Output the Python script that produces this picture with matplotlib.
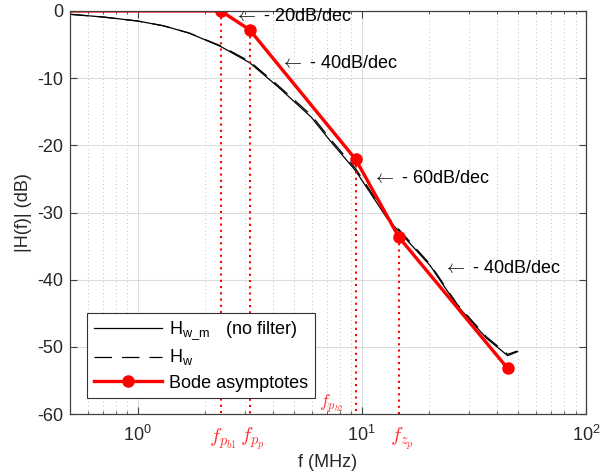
import numpy as np
import matplotlib
matplotlib.use('Agg')
import matplotlib.pyplot as plt
from matplotlib.lines import Line2D

plt.rcParams['font.family'] = ['Liberation Sans', 'DejaVu Sans']
plt.rcParams['mathtext.fontset'] = 'cm'
plt.rcParams['axes.unicode_minus'] = False

f_meas = [0.5, 0.7, 1.0, 1.3, 1.7, 2.35, 3.16, 4.2, 5.95, 7.3, 9.4, 13.0, 20.2, 26.6, 36.0, 44.8, 49.6]
h_wm = [-0.5, -0.9, -1.5, -2.2, -3.3, -5.3, -7.7, -11.2, -15.8, -19.5, -23.8, -30.9, -37.9, -43.8, -48.7, -51.3, -50.7]
h_w = [-0.5, -0.9, -1.5, -2.2, -3.3, -5.2, -7.5, -11.0, -15.5, -19.2, -23.5, -30.6, -37.7, -43.6, -48.5, -51.1, -50.6]

# Bode asymptotes
f_bode = [0.5, 2.35, 3.16, 9.4, 14.6, 44.8]
h_bode = [0, 0, -2.8, -22.1, -33.6, -53.2]

# corner frequencies with red dotted markers
f_corner = [2.35, 3.16, 9.4, 14.6]
h_corner = [0, -2.8, -22.1, -33.6]

fig = plt.figure(figsize=(6.16, 4.76), dpi=100)
ax = fig.add_axes([0.114, 0.130, 0.837, 0.847])

ax.semilogx(f_meas, h_wm, color='black', lw=0.9, label=r'H$_{\mathregular{w\_m}}$   (no filter)')
ax.semilogx(f_meas, h_w, color='black', lw=0.9, ls=(0, (14, 8)), label=r'H$_{\mathregular{w}}$')
ax.semilogx(f_bode, h_bode, color='red', lw=2.4)
ax.plot(f_bode[1:], h_bode[1:], 'o', color='red', ms=8)

for fc, hc in zip(f_corner, h_corner):
    ax.plot([fc, fc], [hc, -60], color='red', lw=1.5, ls=(0, (1, 2)))

ax.set_xlim(0.5, 100)
ax.set_ylim(-60, 0)
ax.set_yticks(np.arange(-60, 1, 10))
ax.grid(True, which='major', color='#dcdcdc', lw=0.8)
ax.grid(True, which='minor', color='#c0c0c0', lw=0.7, ls=(0, (1, 3)))
ax.tick_params(which='both', direction='in', top=True, right=True, labelsize=13,
               color='#404040', labelcolor='#262626')
ax.tick_params(which='major', length=5)
ax.tick_params(which='minor', length=2.5)
ax.tick_params(axis='x', which='major', pad=8)
ax.tick_params(axis='y', which='major', pad=5)
for s in ax.spines.values():
    s.set_linewidth(0.9)
    s.set_color('#404040')

ax.set_xlabel('f (MHz)', fontsize=13, color='#262626', labelpad=6)
ax.set_ylabel('|H(f)| (dB)', fontsize=13, color='#262626')

ann_kw = dict(fontsize=13, va='center')
ax.text(2.7, -0.8, r'$\leftarrow$ - 20dB/dec', **ann_kw)
ax.text(4.3, -7.8, r'$\leftarrow$ - 40dB/dec', **ann_kw)
ax.text(11.1, -25.0, r'$\leftarrow$ - 60dB/dec', **ann_kw)
ax.text(23.0, -38.4, r'$\leftarrow$ - 40dB/dec', **ann_kw)

red = '#ff3333'
ax.text(2.40, -61.8, r'$f_{p_{b1}}$', color=red, fontsize=15, ha='center', va='top', clip_on=False)
ax.text(3.25, -61.8, r'$f_{p_p}$', color=red, fontsize=15, ha='center', va='top', clip_on=False)
ax.text(15.2, -61.8, r'$f_{z_p}$', color=red, fontsize=15, ha='center', va='top', clip_on=False)
ax.text(7.3, -58.4, r'$f_{p_{b2}}$', color=red, fontsize=13, ha='center', va='center')

h, l = ax.get_legend_handles_labels()
h.append(Line2D([], [], color='red', lw=2.4, marker='o', ms=8))
l.append('Bode asymptotes')
leg = ax.legend(h, l, loc='lower left', bbox_to_anchor=(0.033, 0.04), borderaxespad=0,
                fontsize=13, fancybox=False, edgecolor='#333333', framealpha=1,
                handlelength=3.8, borderpad=0.35, labelspacing=0.35, handletextpad=0.4)
leg.get_frame().set_linewidth(0.8)

fig.savefig('out.png', dpi=100)
